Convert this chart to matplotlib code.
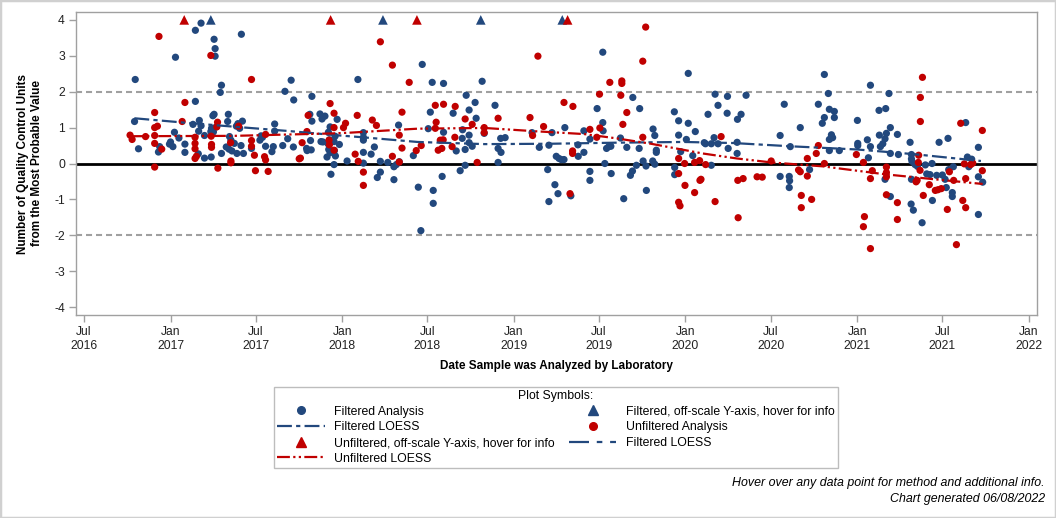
import numpy as np
import pandas as pd
import matplotlib
matplotlib.use("Agg")
import matplotlib.pyplot as plt
import matplotlib.dates as mdates
from matplotlib.lines import Line2D
from matplotlib.patches import Rectangle
from matplotlib import font_manager as fm

# ---------------- data (dates as decimal years) ----------------
filt_year = [
    2016.795, 2016.791, 2016.814, 2016.930, 2016.937, 2016.994, 2017.000, 2017.014, 2017.023, 2017.029,
    2017.049, 2017.084, 2017.084, 2017.131, 2017.145, 2017.145, 2017.162, 2017.164, 2017.168, 2017.178,
    2017.178, 2017.198, 2017.198, 2017.235, 2017.237, 2017.239, 2017.247, 2017.250, 2017.254, 2017.254,
    2017.260, 2017.260, 2017.266, 2017.290, 2017.297, 2017.297, 2017.325, 2017.333, 2017.337, 2017.341,
    2017.344, 2017.352, 2017.358, 2017.372, 2017.384, 2017.387, 2017.393, 2017.403, 2017.411, 2017.413,
    2017.419, 2017.425, 2017.472, 2017.521, 2017.528, 2017.536, 2017.554, 2017.591, 2017.599, 2017.607,
    2017.607, 2017.654, 2017.667, 2017.683, 2017.703, 2017.716, 2017.718, 2017.793, 2017.796, 2017.812,
    2017.816, 2017.820, 2017.824, 2017.824, 2017.871, 2017.877, 2017.883, 2017.888, 2017.900, 2017.912,
    2017.918, 2017.920, 2017.922, 2017.926, 2017.930, 2017.930, 2017.935, 2017.953, 2017.953, 2017.955,
    2017.959, 2017.961, 2017.971, 2017.984, 2018.029, 2018.092, 2018.124, 2018.124, 2018.124, 2018.124,
    2018.124, 2018.169, 2018.188, 2018.205, 2018.223, 2018.223, 2018.266, 2018.302, 2018.302, 2018.316,
    2018.329, 2018.333, 2018.415, 2018.444, 2018.459, 2018.467, 2018.502, 2018.514, 2018.525, 2018.531,
    2018.531, 2018.583, 2018.591, 2018.591, 2018.647, 2018.665, 2018.688, 2018.700, 2018.702, 2018.717,
    2018.717, 2018.723, 2018.740, 2018.740, 2018.740, 2018.758, 2018.775, 2018.781, 2018.816, 2018.828,
    2018.891, 2018.909, 2018.909, 2018.924, 2018.926, 2018.950, 2019.107, 2019.149, 2019.198, 2019.205,
    2019.205, 2019.223, 2019.240, 2019.248, 2019.258, 2019.264, 2019.277, 2019.293, 2019.298, 2019.333,
    2019.374, 2019.376, 2019.409, 2019.409, 2019.444, 2019.444, 2019.444, 2019.486, 2019.519, 2019.519,
    2019.521, 2019.531, 2019.541, 2019.554, 2019.566, 2019.568, 2019.622, 2019.641, 2019.659, 2019.680,
    2019.692, 2019.694, 2019.715, 2019.731, 2019.734, 2019.754, 2019.771, 2019.773, 2019.810, 2019.812,
    2019.822, 2019.822, 2019.831, 2019.831, 2019.936, 2019.938, 2019.938, 2019.961, 2019.961, 2019.973,
    2020.006, 2020.017, 2020.017, 2020.043, 2020.058, 2020.110, 2020.117, 2020.132, 2020.151, 2020.151,
    2020.167, 2020.173, 2020.190, 2020.190, 2020.243, 2020.245, 2020.249, 2020.301, 2020.301, 2020.303,
    2020.324, 2020.353, 2020.551, 2020.551, 2020.575, 2020.604, 2020.604, 2020.606, 2020.610, 2020.668,
    2020.722, 2020.773, 2020.796, 2020.808, 2020.808, 2020.831, 2020.837, 2020.837, 2020.837, 2020.849,
    2020.856, 2020.866, 2020.866, 2020.895, 2021.000, 2021.002, 2021.002, 2021.058, 2021.064, 2021.076,
    2021.076, 2021.126, 2021.128, 2021.134, 2021.148, 2021.161, 2021.161, 2021.165, 2021.169, 2021.184,
    2021.192, 2021.192, 2021.192, 2021.233, 2021.239, 2021.307, 2021.313, 2021.315, 2021.315, 2021.315,
    2021.318, 2021.326, 2021.336, 2021.350, 2021.377, 2021.396, 2021.404, 2021.423, 2021.435, 2021.437,
    2021.462, 2021.476, 2021.495, 2021.511, 2021.518, 2021.528, 2021.532, 2021.553, 2021.553, 2021.559,
    2021.631, 2021.641, 2021.649, 2021.666, 2021.705, 2021.705, 2021.705, 2021.730,
]
filt_value = [
    2.34, 1.17, 0.41, 0.32, 0.47, 0.54, 0.60, 0.47, 0.87, 2.96,
    0.71, 0.54, 0.31, 1.09, 3.71, 1.73, 0.27, 0.90, 1.20, 3.91,
    1.05, 0.78, 0.15, 0.89, 0.18, 0.98, 1.33, 0.88, 3.46, 1.37,
    3.20, 2.99, 1.02, 1.98, 2.18, 0.28, 0.46, 1.17, 1.37, 0.40,
    0.75, 0.65, 0.35, 0.56, 1.04, 0.28, 1.11, 0.98, 0.50, 3.60,
    1.18, 0.28, 0.42, 0.65, 0.77, 0.73, 0.48, 0.33, 0.47, 1.10,
    0.90, 0.50, 2.01, 0.69, 2.32, 0.46, 1.77, 0.42, 0.36, 1.37,
    0.64, 0.38, 1.87, 1.18, 1.38, 0.61, 1.24, 0.60, 1.32, 0.18,
    0.55, 0.87, 0.39, 0.66, 1.02, 0.30, -0.30, 0.61, -0.03, 0.36,
    0.76, 0.21, 1.23, 0.53, 0.07, 2.34, 0.86, 0.73, 0.65, 0.31,
    0.01, 0.26, 0.46, -0.39, -0.24, 0.06, 0.03, -0.45, -0.09, -0.03,
    1.07, 0.05, 0.22, -0.66, -1.87, 2.76, 0.97, 1.43, 2.26, -0.75,
    -1.11, -0.36, 2.23, 0.87, 1.40, 0.35, -0.20, 0.70, 0.94, 0.39,
    -0.05, 1.90, 1.49, 0.79, 0.58, 0.48, 1.70, 1.26, 2.29, 0.84,
    1.62, 0.42, 0.03, 0.70, 0.31, 0.72, 0.86, 0.45, -0.17, 0.51,
    -1.06, 0.86, -0.59, 0.20, -0.84, 0.14, 0.11, 0.11, 1.00, -0.90,
    0.52, 0.20, 0.91, 0.31, -0.22, -0.47, 0.68, 1.53, 3.10, 1.14,
    0.91, 0.00, 0.42, 0.47, 0.48, -0.28, 0.71, -0.98, 0.45, -0.33,
    -0.21, 1.84, -0.05, 0.42, 1.53, 0.07, -0.07, -0.75, 0.07, 0.96,
    0.78, -0.02, 0.37, 0.31, 1.44, -0.11, -0.31, 1.19, 0.79, 0.33,
    0.67, 2.51, 1.12, 0.22, 0.89, 0.58, 0.55, 1.37, 0.55, -0.05,
    0.72, 1.93, 1.62, 0.55, 1.40, 1.87, 0.42, 0.59, 0.28, 1.23,
    1.37, 1.90, 0.78, -0.36, 1.65, -0.36, -0.67, -0.48, 0.47, 1.00,
    -0.17, 1.65, 1.12, 1.28, 2.48, 1.95, 1.51, 0.67, 0.36, 0.80,
    0.72, 1.45, 1.28, 0.36, 1.20, 0.56, 0.50, 0.66, 0.16, 2.18,
    0.47, 1.48, 0.79, 0.47, 0.55, 0.69, -0.44, 1.53, 0.84, 1.95,
    1.00, 0.28, -0.92, 0.81, 0.25, 0.59, -1.13, 0.25, 0.13, -0.44,
    0.06, -1.30, -0.03, -0.08, -1.65, -0.04, -0.29, -0.31, 0.00, -1.03,
    -0.33, 0.59, -0.32, -0.44, -0.67, 0.70, -0.17, -0.81, -0.92, -0.09,
    1.14, 0.18, -0.09, 0.12, 0.45, -0.37, -1.42, -0.52,
]

unf_year = [
    2016.765, 2016.777, 2016.855, 2016.908, 2016.908, 2016.908, 2016.908, 2016.908, 2016.924, 2016.933,
    2016.949, 2017.068, 2017.084, 2017.143, 2017.143, 2017.143, 2017.143, 2017.151, 2017.235, 2017.237,
    2017.239, 2017.239, 2017.270, 2017.274, 2017.276, 2017.350, 2017.352, 2017.352, 2017.397, 2017.472,
    2017.472, 2017.472, 2017.489, 2017.495, 2017.548, 2017.554, 2017.554, 2017.569, 2017.750, 2017.757,
    2017.767, 2017.795, 2017.802, 2017.924, 2017.926, 2017.930, 2017.953, 2017.953, 2017.953, 2018.008,
    2018.020, 2018.076, 2018.088, 2018.094, 2018.124, 2018.124, 2018.176, 2018.200, 2018.223, 2018.293,
    2018.293, 2018.333, 2018.333, 2018.349, 2018.349, 2018.391, 2018.432, 2018.461, 2018.543, 2018.543,
    2018.548, 2018.560, 2018.572, 2018.581, 2018.589, 2018.591, 2018.641, 2018.657, 2018.659, 2018.717,
    2018.758, 2018.787, 2018.828, 2018.828, 2018.909, 2019.095, 2019.110, 2019.141, 2019.174, 2019.293,
    2019.328, 2019.343, 2019.343, 2019.345, 2019.444, 2019.484, 2019.500, 2019.502, 2019.560, 2019.624,
    2019.630, 2019.630, 2019.636, 2019.659, 2019.752, 2019.752, 2019.769, 2019.961, 2019.961, 2019.961,
    2019.969, 2019.996, 2019.998, 2020.054, 2020.054, 2020.083, 2020.085, 2020.091, 2020.118, 2020.173,
    2020.208, 2020.305, 2020.307, 2020.336, 2020.417, 2020.447, 2020.499, 2020.658, 2020.668, 2020.674,
    2020.674, 2020.709, 2020.709, 2020.734, 2020.761, 2020.773, 2020.808, 2020.994, 2021.035, 2021.035,
    2021.041, 2021.076, 2021.076, 2021.087, 2021.169, 2021.169, 2021.169, 2021.169, 2021.233, 2021.233,
    2021.342, 2021.348, 2021.355, 2021.357, 2021.365, 2021.367, 2021.367, 2021.379, 2021.384, 2021.419,
    2021.454, 2021.470, 2021.489, 2021.524, 2021.536, 2021.561, 2021.577, 2021.602, 2021.614, 2021.623,
    2021.631, 2021.631, 2021.660, 2021.672, 2021.728, 2021.728,
]
unf_value = [
    0.79, 0.67, 0.75, 1.42, 1.00, 0.78, 0.56, -0.10, 1.04, 3.54,
    0.40, 1.17, 1.70, 0.73, 0.56, 0.41, 0.14, 0.20, 3.01, 0.76,
    0.53, 0.45, 1.02, 1.15, -0.13, 0.58, 0.07, 0.02, 1.04, 2.34,
    0.64, 0.48, 0.23, -0.20, 0.19, 0.81, 0.10, -0.22, 0.13, 0.15,
    0.58, 0.89, 1.34, 0.65, 0.52, 1.67, 1.40, 1.00, 0.37, 1.00,
    1.12, 0.26, 1.34, 0.06, -0.24, -0.61, 1.21, 1.06, 3.39, 2.74,
    0.20, 0.79, 0.04, 1.43, 0.43, 2.26, 0.36, 0.50, 1.62, 0.98,
    1.15, 0.37, 0.65, 0.42, 0.66, 1.65, 0.47, 0.73, 1.59, 1.24,
    1.09, 0.03, 1.00, 0.86, 1.26, 1.28, 0.78, 2.99, 1.03, 1.70,
    -0.84, 0.35, 0.28, 1.59, 0.95, 0.73, 1.93, 0.99, 2.26, 1.90,
    2.30, 2.23, 1.09, 1.42, 2.85, 0.73, 3.80, 0.14, -0.28, -1.08,
    -1.18, 0.00, -0.61, 0.03, -0.81, 0.08, -0.47, -0.44, -0.03, -1.06,
    0.75, -0.47, -1.51, -0.42, -0.37, -0.38, 0.07, -0.18, -0.23, -0.89,
    -1.23, 0.14, -0.35, -1.00, 0.28, 0.50, 0.00, 0.25, 0.03, -1.76,
    -1.48, -0.42, -2.37, -0.20, -0.10, -0.25, -0.37, -0.87, -1.09, -1.56,
    -0.51, -0.47, 0.03, 0.23, -0.19, 1.17, 1.84, 2.40, -0.89, -0.59,
    -0.75, -0.73, -0.70, -1.28, -0.23, -0.47, -2.26, 1.12, -1.03, -0.01,
    -1.23, -0.42, -0.03, 0.01, 0.92, -0.20,
]

# off-scale analyses (value above the axis maximum) - shown at the top of the axis
filt_offscale_year = [2017.235, 2018.238, 2018.808, 2019.283]
unf_offscale_year = [2017.080, 2017.933, 2018.436, 2019.314]
OFFSCALE_CAP = 4.0

# LOESS curves
filt_loess_year = [2016.79, 2017.10, 2017.41, 2017.70, 2017.96, 2018.12, 2018.44, 2018.83,
                   2019.21, 2019.60, 2019.99, 2020.28, 2020.61, 2021.00, 2021.33, 2021.72]
filt_loess_value = [1.26, 1.13, 1.01, 0.90, 0.79, 0.73, 0.60, 0.54,
                    0.55, 0.58, 0.60, 0.57, 0.48, 0.39, 0.26, 0.07]
unf_loess_year = [2016.77, 2017.37, 2017.96, 2018.05, 2018.44, 2018.83, 2019.12, 2019.41, 2019.60,
                  2019.80, 2019.99, 2020.10, 2020.30, 2020.50, 2020.80, 2021.16, 2021.45, 2021.73]
unf_loess_value = [0.76, 0.77, 0.84, 0.86, 0.97, 0.99, 0.90, 0.82, 0.70,
                   0.55, 0.38, 0.28, 0.14, 0.03, -0.08, -0.30, -0.44, -0.57]

assert len(filt_year) == len(filt_value)
assert len(unf_year) == len(unf_value)


def yr_to_dt(arr):
    out = []
    for y in arr:
        yr = int(np.floor(y))
        start = pd.Timestamp(year=yr, month=1, day=1)
        end = pd.Timestamp(year=yr + 1, month=1, day=1)
        out.append(start + (end - start) * (y - yr))
    return pd.to_datetime(out)


# ---------------- style ----------------
names = {f.name for f in fm.fontManager.ttflist}
BASE = "Liberation Sans" if "Liberation Sans" in names else "DejaVu Sans"
if "Liberation Sans Narrow" in names:
    NARROW, TICK_FS = "Liberation Sans Narrow", 10
else:
    NARROW, TICK_FS = BASE, 8.7
plt.rcParams["font.family"] = [BASE, "DejaVu Sans"]
plt.rcParams["axes.unicode_minus"] = False

BLUE = "#22487d"
RED = "#c00000"
GRAY = "#a0a0a0"

fig = plt.figure(figsize=(10.56, 5.18), dpi=100)
W, H = 1056, 518
ax = fig.add_axes([76 / W, 1 - 315 / H, (1037 - 76) / W, (315 - 12) / H])

ax.axhline(0, color="black", lw=2, zorder=1)
for yv in (2, -2):
    ax.axhline(yv, color=GRAY, lw=1.5, ls=(0, (2.9, 1.9)), zorder=1)

ax.scatter(yr_to_dt(filt_year), filt_value, s=27, color=BLUE, edgecolors="none", zorder=3)
ax.scatter(yr_to_dt(unf_year), unf_value, s=27, color=RED, edgecolors="none", zorder=3)
ax.scatter(yr_to_dt(filt_offscale_year), [OFFSCALE_CAP] * len(filt_offscale_year),
           marker="^", s=48, color=BLUE, edgecolors="none", zorder=3)
ax.scatter(yr_to_dt(unf_offscale_year), [OFFSCALE_CAP] * len(unf_offscale_year),
           marker="^", s=48, color=RED, edgecolors="none", zorder=3)

LS_F = (0, (6.7, 1.9, 1.9, 1.9))
LS_U = (0, (5.8, 1.5, 1.0, 1.5, 1.0, 1.5))
LS_F2 = (0, (9.0, 3.5, 2.5, 3.5))
ax.plot(yr_to_dt(filt_loess_year), filt_loess_value, color=BLUE, lw=1.6, ls=LS_F, zorder=4)
ax.plot(yr_to_dt(unf_loess_year), unf_loess_value, color=RED, lw=1.6, ls=LS_U, zorder=4)

ax.set_xlim(pd.Timestamp("2016-06-14"), pd.Timestamp("2022-01-18"))
ax.set_ylim(-4.22, 4.22)
ax.set_yticks(range(-4, 5))
ax.xaxis.set_major_locator(mdates.MonthLocator(bymonth=[1, 7]))
ax.xaxis.set_major_formatter(mdates.DateFormatter("%b\n%Y"))
for lab in ax.get_xticklabels() + ax.get_yticklabels():
    lab.set_fontfamily([NARROW, "DejaVu Sans"])
    lab.set_fontsize(TICK_FS)
    lab.set_color("#222222")
ax.tick_params(direction="out", length=5, width=1, color=GRAY, pad=3)
for sp in ax.spines.values():
    sp.set_color(GRAY)
    sp.set_linewidth(1)

ax.set_ylabel("Number of Quality Control Units\nfrom the Most Probable Value",
              fontsize=8.5, fontweight="bold", linespacing=1.2)
ax.yaxis.set_label_coords((43 - 76) / (1037 - 76), 0.5)
fig.text(556.5 / W, 1 - 366 / H, "Date Sample was Analyzed by Laboratory",
         ha="center", va="center", fontsize=TICK_FS - 0.5 if NARROW != BASE else 8.5,
         fontweight="bold", family=[NARROW, "DejaVu Sans"])

# legend
h_fa = Line2D([], [], marker="o", ls="None", color=BLUE, markersize=5.5)
h_foff = Line2D([], [], marker="^", ls="None", color=BLUE, markersize=7)
h_fl = Line2D([], [], color=BLUE, lw=1.6, ls=LS_F)
h_ua = Line2D([], [], marker="o", ls="None", color=RED, markersize=5.5)
h_uoff = Line2D([], [], marker="^", ls="None", color=RED, markersize=7)
h_fl2 = Line2D([], [], color=BLUE, lw=1.6, ls=LS_F2)
h_ul = Line2D([], [], color=RED, lw=1.6, ls=LS_U)
handles = [h_fa, h_fl, h_uoff, h_ul, h_foff, h_ua, h_fl2]
labels = ["Filtered Analysis", "Filtered LOESS", "Unfiltered, off-scale Y-axis, hover for info",
          "Unfiltered LOESS", "Filtered, off-scale Y-axis, hover for info",
          "Unfiltered Analysis", "Filtered LOESS"]
leg = fig.legend(handles, labels, ncol=2, loc="upper left",
                 bbox_to_anchor=(274 / W, 1 - 467 / H, (838 - 274) / W, 80 / H),
                 mode="expand", title="Plot Symbols:", fontsize=8.8, title_fontsize=8.8,
                 handlelength=3.9, handletextpad=0.8, labelspacing=0.3, borderpad=0.25,
                 frameon=True, fancybox=False, edgecolor="#bdbdbd", framealpha=1,
                 borderaxespad=0)
leg.get_frame().set_linewidth(1)

fig.text(1045 / W, 1 - 483 / H, "Hover over any data point for method and additional info.",
         ha="right", va="center", fontsize=8.9, style="italic")
fig.text(1045 / W, 1 - 499 / H, "Chart generated 06/08/2022",
         ha="right", va="center", fontsize=8.9, style="italic")

fig.patches.append(Rectangle((0, 0), 1, 1, transform=fig.transFigure, fill=False,
                             edgecolor="#d0d0d0", lw=2.5, zorder=10))

fig.savefig("out.png", dpi=100)
